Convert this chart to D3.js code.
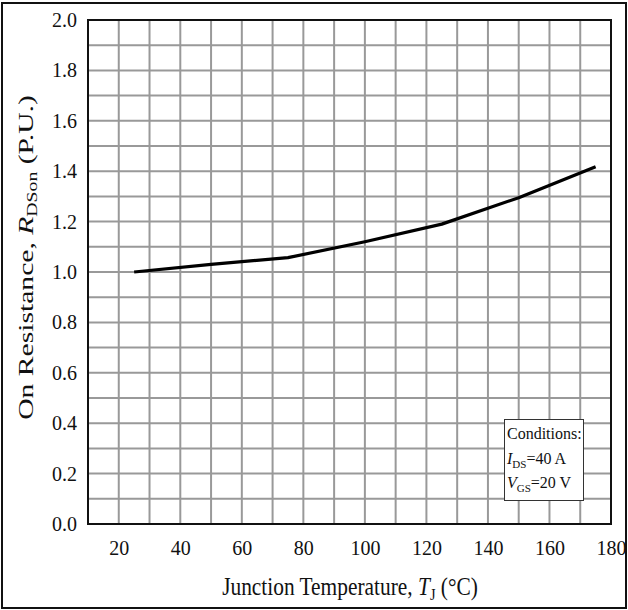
<!DOCTYPE html>
<html><head><meta charset="utf-8">
<script src="https://cdn.jsdelivr.net/npm/d3@7/dist/d3.min.js"></script>
<style>body{margin:0;background:#fff}svg{display:block}text{font-family:"Liberation Serif","Times New Roman",serif;fill:#111}</style>
</head><body><svg id="c" width="628" height="610"></svg>
<script>
// Data
const temps = [25, 50, 75, 100, 125, 150, 175];
const rdson = [1.00, 1.03, 1.057, 1.12, 1.19, 1.295, 1.418];
const xTicks = [20, 40, 60, 80, 100, 120, 140, 160, 180];
const yTicks = [0.0, 0.2, 0.4, 0.6, 0.8, 1.0, 1.2, 1.4, 1.6, 1.8, 2.0];
const conditions = ["Conditions:", "I|DS|=40 A", "V|GS|=20 V"];

const svg = d3.select("#c");
const L = 88, R = 611, T = 20, B = 524;
const x = d3.scaleLinear().domain([10, 180]).range([L, R]);
const y = d3.scaleLinear().domain([0, 2]).range([B, T]);

// outer frame
svg.append("rect").attr("x", 2).attr("y", 3).attr("width", 624).attr("height", 605)
  .attr("fill", "none").attr("stroke", "#111").attr("stroke-width", 2);

// grid
const g = svg.append("g");
g.selectAll(".vg").data(d3.range(20, 180, 10)).join("line")
  .attr("x1", d => x(d)).attr("x2", d => x(d)).attr("y1", T).attr("y2", B)
  .attr("stroke", "#999").attr("stroke-width", 2);
g.selectAll(".hg").data(d3.range(1, 20).map(i => i / 10)).join("line")
  .attr("y1", d => y(d)).attr("y2", d => y(d)).attr("x1", L).attr("x2", R)
  .attr("stroke", "#999").attr("stroke-width", 2);

// plot border
svg.append("rect").attr("x", L).attr("y", T).attr("width", R - L).attr("height", B - T)
  .attr("fill", "none").attr("stroke", "#111").attr("stroke-width", 2);

// axes labels via d3 axes (hide lines)
const ax = svg.append("g").attr("transform", `translate(0,${B})`)
  .call(d3.axisBottom(x).tickValues(xTicks).tickFormat(d3.format("d")).tickSize(0).tickPadding(17));
ax.select(".domain").remove();
ax.selectAll("text").attr("font-size", 20).attr("font-family", "Liberation Serif").attr("fill", "#111");

const ay = svg.append("g").attr("transform", `translate(${L},0)`)
  .call(d3.axisLeft(y).tickValues(yTicks).tickFormat(d3.format(".1f")).tickSize(0).tickPadding(11));
ay.select(".domain").remove();
ay.selectAll("text").attr("font-size", 20).attr("font-family", "Liberation Serif").attr("fill", "#111");

// curve
const line = d3.line().x((d, i) => x(temps[i])).y(d => y(d)).curve(d3.curveLinear);
svg.append("path").attr("d", line(rdson)).attr("fill", "none")
  .attr("stroke", "#000").attr("stroke-width", 3.2).attr("stroke-linejoin", "round");

// legend box
svg.append("rect").attr("x", 504.5).attr("y", 419.5).attr("width", 79).attr("height", 81)
  .attr("fill", "#fff").attr("stroke", "#333").attr("stroke-width", 1);
conditions.forEach((c, i) => {
  const t = svg.append("text").attr("x", 507).attr("y", 439 + i * 24.5).attr("font-size", 16);
  const parts = c.split("|");
  if (parts.length === 1) { t.text(c); }
  else {
    t.append("tspan").attr("font-style", "italic").text(parts[0]);
    t.append("tspan").attr("font-size", 11).attr("dy", 4).text(parts[1]);
    t.append("tspan").attr("dy", -4).text(parts[2]);
  }
});

// x title
const xt = svg.append("text").attr("font-size", 21).attr("text-anchor", "middle");
xt.append("tspan").text("Junction Temperature, ");
xt.append("tspan").attr("font-style", "italic").text("T");
xt.append("tspan").attr("font-size", 14).attr("dy", 4).text("J");
xt.append("tspan").attr("dy", -4).text(" (°C)");
{
  const w = xt.node().getComputedTextLength();
  const sx = 256 / w;
  xt.attr("transform", `translate(350,595) scale(${sx},1.15)`);
}

// y title
const yt = svg.append("text").attr("font-size", 21).attr("text-anchor", "middle");
yt.append("tspan").text("On Resistance, ");
yt.append("tspan").attr("font-style", "italic").text("R");
yt.append("tspan").attr("font-size", 14).attr("dy", 4).text("DSon");
yt.append("tspan").attr("dy", -4).text(" (P.U.)");
{
  const w = yt.node().getComputedTextLength();
  const sx = 325 / w;
  yt.attr("transform", `translate(33,257.5) rotate(-90) scale(${sx},1)`);
}
</script></body></html>
